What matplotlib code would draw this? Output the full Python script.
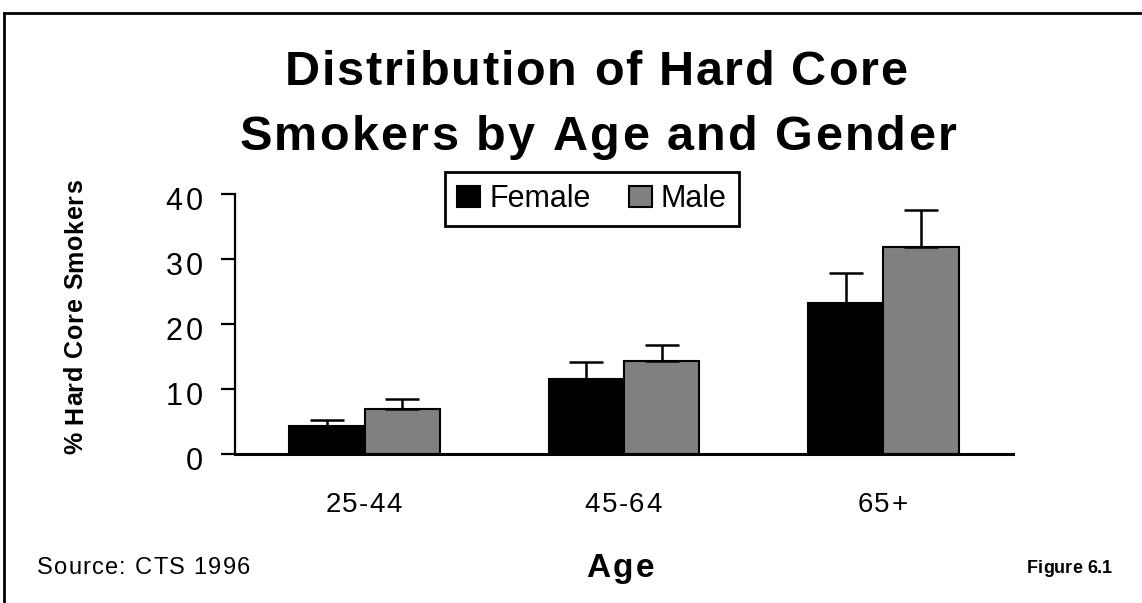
import matplotlib
matplotlib.use("Agg")
import matplotlib.pyplot as plt
import numpy as np
from matplotlib.lines import Line2D
from matplotlib.font_manager import FontProperties, findfont
from matplotlib.ft2font import FT2Font

plt.rcParams['font.family'] = ['Liberation Sans', 'DejaVu Sans']

categories = ["25-44", "45-64", "65+"]
series_names = ["Female", "Male"]
female = [4.35, 11.6, 23.2]
male = [7.0, 14.35, 31.8]
female_err = [0.95, 2.5, 4.7]
male_err = [1.4, 2.35, 5.7]
yticks = [0, 10, 20, 30, 40]
colors = ["#000000", "#808080"]
title_lines = ["Distribution of Hard Core", "Smokers by Age and Gender"]

W, H = 1142, 603
DPI = 100
fig = plt.figure(figsize=(W / DPI, H / DPI), dpi=DPI)


def advances(s, size, weight):
    fp = FontProperties(family='Liberation Sans', weight=weight)
    font = FT2Font(findfont(fp))
    font.set_size(size, DPI)
    out = []
    for c in s:
        g = font.load_char(ord(c))
        out.append(g.linearHoriAdvance / 65536.0)
    return out


def tracked(s, x, y, size, weight='normal', ha='center', target=None, track=0.0, rot=0):
    """Draw text with letter spacing; x, y in pixels from top-left, y is baseline."""
    adv = advances(s, size, weight)
    n = len(s)
    if target is not None and n > 1:
        track = (target - sum(adv)) / (n - 1)
    total = sum(adv) + track * (n - 1)
    if ha == 'center':
        start = -total / 2
    elif ha == 'right':
        start = -total
    else:
        start = 0
    cum = start
    for c, a in zip(s, adv):
        if rot == 0:
            px, py = x + cum, y
        else:
            px, py = x, y - cum
        fig.text(px / W, 1 - py / H, c, ha='left', va='baseline', rotation=rot,
                 rotation_mode='anchor', fontsize=size, fontweight=weight)
        cum += a + track
    return track


ax = fig.add_axes([235 / W, 1 - 454 / H, (1013 - 235) / W, (454 - 194) / H])

x = np.arange(len(categories))
bw = 0.29
errkw = dict(ecolor='black', elinewidth=1.8, capsize=12, capthick=1.8)
for vals, errs, col, off, name in [(female, female_err, colors[0], -bw / 2, series_names[0]),
                                    (male, male_err, colors[1], bw / 2, series_names[1])]:
    ax.bar(x + off, vals, bw, color=col, edgecolor='black', linewidth=1.5, label=name,
           yerr=[np.zeros(len(errs)), errs], error_kw=errkw, zorder=2)

ax.set_xlim(-0.5, 2.5)
ax.set_ylim(0, 40)
ax.set_yticks(yticks)
ax.set_yticklabels([])
ax.set_xticks(x)
ax.set_xticklabels([])
ax.tick_params(axis='x', length=0)
ax.tick_params(axis='y', length=10, width=1.6, direction='out')
for s in ['top', 'right']:
    ax.spines[s].set_visible(False)
ax.spines['left'].set_linewidth(1.6)
ax.spines['bottom'].set_linewidth(2.2)

# tick labels placed at the axes' own tick positions
size_y = 22
cap_y = 0.716 * size_y * DPI / 72
for v in yticks:
    _, dy = ax.transData.transform((0, v))
    tracked(str(v), 203, (H - dy) + cap_y / 2 + 5, size_y, ha='right', track=3.5)

for xi, lab in zip(x, categories):
    dx, _ = ax.transData.transform((xi, 0))
    tracked(lab, dx - 1, 512, 20, ha='center', track=1.5)

leg = fig.legend(loc='upper left', bbox_to_anchor=(445 / W, 1 - 172 / H), fontsize=22,
                 ncol=2, frameon=True, fancybox=False, framealpha=1,
                 handlelength=0.75, handleheight=0.68,
                 handletextpad=0.3, columnspacing=1.25, borderpad=0.4, borderaxespad=0)
leg.get_frame().set_edgecolor('black')
leg.get_frame().set_linewidth(2)

# title
tracked(title_lines[0], 596, 85, 35, weight='bold', target=623)
tracked(title_lines[1], 598, 150, 35, weight='bold', target=717)

# y label (rotated)
tracked("% Hard Core Smokers", 82, 317, 18, weight='bold', rot=90, target=275)

tracked("Source: CTS 1996", 37, 574, 17, ha='left', target=213)
tracked("Age", 620, 577, 24, weight='bold', target=68)
tracked("Figure 6.1", 1112, 573, 13, weight='bold', ha='right')

fig.add_artist(Line2D([4 / W, 4 / W], [0, 1 - 13 / H], color='black', linewidth=2, transform=fig.transFigure))
fig.add_artist(Line2D([4 / W, 1], [1 - 13 / H, 1 - 13 / H], color='black', linewidth=2, transform=fig.transFigure))

fig.savefig("out.png", dpi=DPI)
